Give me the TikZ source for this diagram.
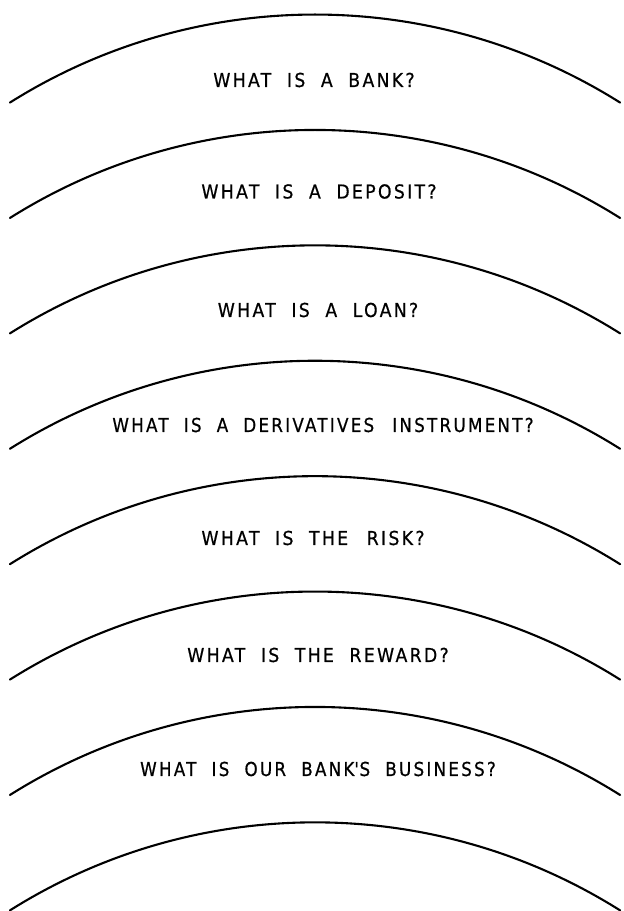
\documentclass[tikz,border=0pt]{standalone}
\usepackage{fontspec}
\newfontfamily\plotfont{DejaVu Sans}[FakeStretch=0.9, LetterSpace=12, WordSpace=2, FakeBold=0.6]
\begin{document}
\begin{tikzpicture}[x=1pt,y=1pt,
  arcline/.style={line width=2.1pt, line cap=round},
  qtext/.style={font=\plotfont\fontsize{19.2}{22}\selectfont, anchor=base, inner sep=0pt}]
\useasboundingbox (0,0) rectangle (624,911);
\foreach \i in {0,...,7} {
  \pgfmathsetmacro{\ay}{911-14.5-115.4*\i-88.1}
  \draw[arcline] (9.9,\ay) arc[start angle=122.2, end angle=57.8, radius=572.6];
}
\node[qtext] (q1) at (314,824) {WHAT IS A BANK?};
\node[qtext] (q2) at (319,712.5) {WHAT IS A DEPOSIT?};
\node[qtext] (q3) at (318,594) {WHAT IS A LOAN?};
\node[qtext, xscale=0.97] (q4) at (323,479) {WHAT IS A DERIVATIVES\hspace{3pt} INSTRUMENT?};
\node[qtext] (q5) at (313,366) {WHAT IS THE\hspace{3pt} RISK?};
\node[qtext] (q6) at (318,249) {WHAT IS THE REWARD?};
\node[qtext, xscale=0.97] (q7) at (318,135) {WHAT IS OUR BANK\textquotesingle S BUSINESS?};
\end{tikzpicture}
\end{document}
